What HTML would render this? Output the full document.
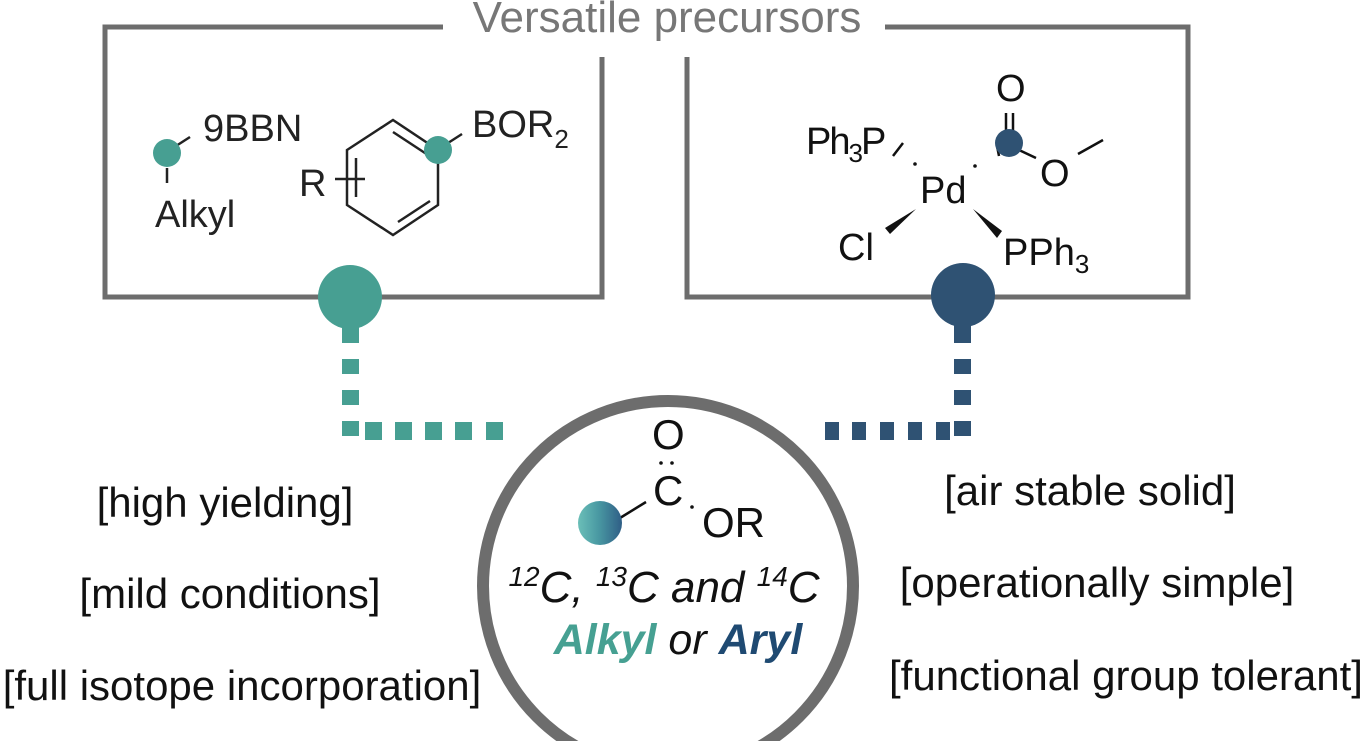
<!DOCTYPE html>
<html><head><meta charset="utf-8"><style>
html,body{margin:0;padding:0;background:#fff;}
svg{display:block;}
text{font-family:"Liberation Sans",sans-serif;}
</style></head><body>
<svg width="1370" height="741" viewBox="0 0 1370 741" xmlns="http://www.w3.org/2000/svg">
<defs>
<linearGradient id="g" x1="0" x2="1" y1="0" y2="0">
<stop offset="0" stop-color="#6bbfb8"/><stop offset="0.45" stop-color="#4a9aa3"/><stop offset="1" stop-color="#2f5e86"/>
</linearGradient>
</defs>
<text x="667" y="32" font-size="44" fill="#777" text-anchor="middle">Versatile precursors</text>
<g fill="none" stroke="#6d6d6d" stroke-width="5">
<polyline points="443,27 105,27 105,297 602,297 602,57"/>
<polyline points="885,27 1188,27 1188,297 687,297 687,57"/>
</g>
<g stroke="#222" stroke-width="2.5" fill="none">
<line x1="176" y1="146" x2="190" y2="137"/>
<line x1="167" y1="168" x2="167" y2="183"/>
<polygon points="393,120 438,150 438,205 393,235 347,205 347,150"/>
<line x1="393" y1="132" x2="428" y2="155"/>
<line x1="398" y1="222" x2="430" y2="201"/>
<line x1="356" y1="158" x2="356" y2="197"/>
<line x1="335" y1="179" x2="365" y2="179"/>
<line x1="448" y1="143" x2="462" y2="134"/>
</g>
<circle cx="167" cy="153" r="14" fill="#479f92"/>
<circle cx="438" cy="150" r="14" fill="#479f92"/>
<g font-size="38" fill="#222">
<text x="203" y="141">9BBN</text>
<text x="155" y="227">Alkyl</text>
<text x="299" y="196">R</text>
<text x="472" y="137">BOR<tspan font-size="26" dy="11">2</tspan></text>
</g>
<g stroke="#111" stroke-width="2.5" fill="none">
<line x1="893" y1="156" x2="903" y2="143"/>
<line x1="1006" y1="113" x2="1006" y2="133"/>
<line x1="1013" y1="113" x2="1013" y2="133"/>
<line x1="1019" y1="150" x2="1036" y2="158"/>
<line x1="1078" y1="154" x2="1103" y2="140"/>
<line x1="997" y1="146" x2="999" y2="156"/>
</g>
<circle cx="915" cy="164" r="1.8" fill="#111"/>
<circle cx="975" cy="166" r="1.8" fill="#111"/>
<circle cx="1009" cy="143" r="14" fill="#2f5273"/>
<polygon points="916,209 890,234 885,228" fill="#111"/>
<polygon points="973,209 997,238 1002,231" fill="#111"/>
<g font-size="38" fill="#111">
<text x="806" y="154" letter-spacing="-2">Ph<tspan font-size="26" dy="8">3</tspan><tspan dy="-8">P</tspan></text>
<text x="920" y="203">Pd</text>
<text x="996" y="101">O</text>
<text x="1040" y="186">O</text>
<text x="838" y="260">Cl</text>
<text x="1003" y="265">PPh<tspan font-size="26" dy="8">3</tspan></text>
</g>
<circle cx="350" cy="297" r="32" fill="#479f92"/>
<rect x="342" y="310" width="17" height="33" fill="#479f92"/>
<circle cx="963" cy="295" r="32" fill="#2f5273"/>
<rect x="954" y="310" width="17" height="33" fill="#2f5273"/>
<g fill="#479f92">
<rect x="342" y="359" width="17" height="15"/>
<rect x="342" y="390" width="17" height="15"/>
<rect x="342" y="421" width="17" height="15"/>
<rect x="365" y="422" width="17" height="18"/>
<rect x="395" y="422" width="17" height="18"/>
<rect x="425" y="422" width="17" height="18"/>
<rect x="455" y="422" width="17" height="18"/>
<rect x="486" y="422" width="17" height="18"/>
</g>
<g fill="#2f5273">
<rect x="954" y="359" width="17" height="15"/>
<rect x="954" y="390" width="17" height="15"/>
<rect x="954" y="421" width="17" height="15"/>
<rect x="936" y="422" width="14" height="18"/>
<rect x="908" y="422" width="14" height="18"/>
<rect x="880" y="422" width="14" height="18"/>
<rect x="852" y="422" width="14" height="18"/>
<rect x="825" y="422" width="14" height="18"/>
</g>
<circle cx="668" cy="586" r="185" fill="#fff" stroke="#6d6d6d" stroke-width="12"/>
<g fill="#111" font-size="42">
<text x="652" y="449">O</text>
<text x="653" y="505">C</text>
<text x="702" y="537">OR</text>
</g>
<circle cx="661" cy="463" r="1.8" fill="#111"/>
<circle cx="672" cy="463" r="1.8" fill="#111"/>
<circle cx="692" cy="507" r="1.8" fill="#111"/>
<line x1="620" y1="518" x2="646" y2="502" stroke="#111" stroke-width="2.5"/>
<circle cx="600" cy="523" r="22" fill="url(#g)"/>
<text x="664" y="602" font-size="44" font-style="italic" fill="#111" text-anchor="middle"><tspan font-size="28" dy="-16">12</tspan><tspan dy="16">C, </tspan><tspan font-size="28" dy="-16">13</tspan><tspan dy="16">C and </tspan><tspan font-size="28" dy="-16">14</tspan><tspan dy="16">C</tspan></text>
<text x="678" y="654" font-size="43" font-style="italic" fill="#111" text-anchor="middle"><tspan font-weight="bold" fill="#46a092">Alkyl</tspan> or <tspan font-weight="bold" fill="#1f4a72">Aryl</tspan></text>
<g font-size="42" fill="#111" text-anchor="middle">
<text x="225" y="517">[high yielding]</text>
<text x="230" y="608">[mild conditions]</text>
<text x="242" y="700">[full isotope incorporation]</text>
<text x="1090" y="505">[air stable solid]</text>
<text x="1097" y="597">[operationally simple]</text>
<text x="1126" y="690">[functional group tolerant]</text>
</g>
</svg>
</body></html>
